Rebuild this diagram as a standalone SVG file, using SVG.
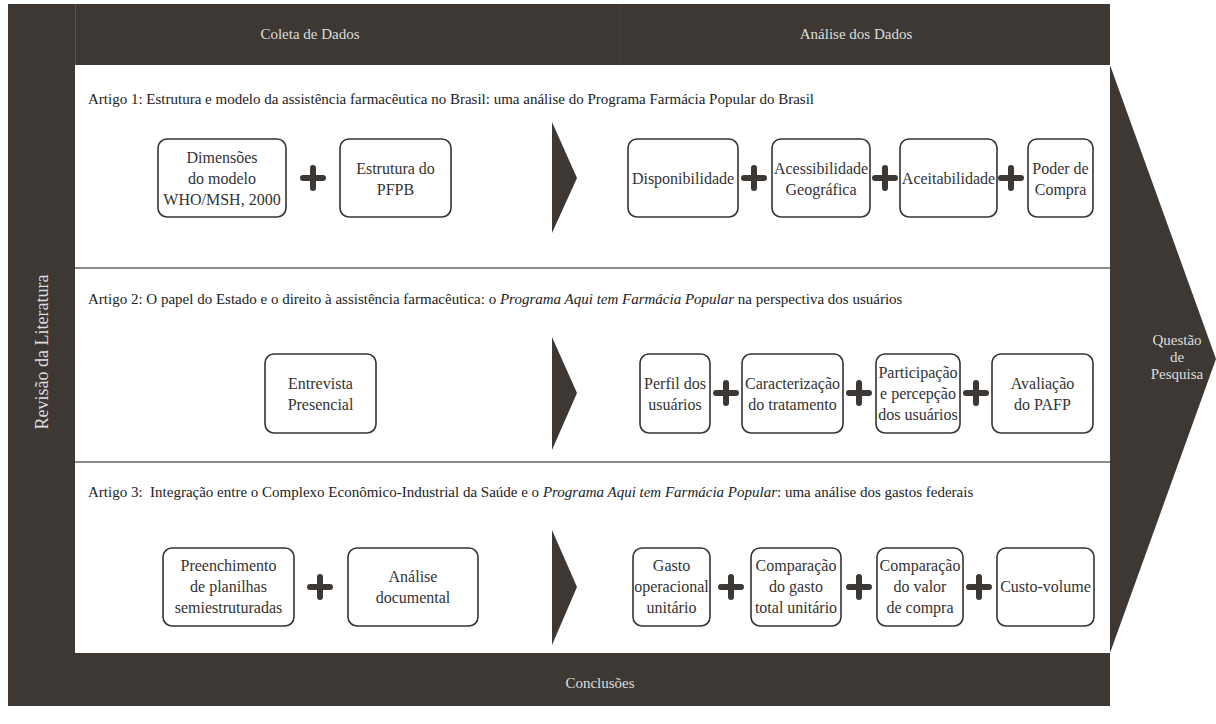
<svg xmlns="http://www.w3.org/2000/svg" width="1216" height="724" viewBox="0 0 1216 724">
<defs>
<style>
.dark{fill:#3d3833}
.box{fill:#fff;stroke:#333;stroke-width:1.6}
.t{font-family:"Liberation Serif","Times New Roman",serif;font-size:16px;fill:#333;text-anchor:middle}
.h{font-family:"Liberation Serif","Times New Roman",serif;font-size:15px;fill:#ddd;text-anchor:middle}
.ti{font-family:"Liberation Serif","Times New Roman",serif;font-size:15px;fill:#222}
.sep{stroke:#666;stroke-width:1.5}
.plus{stroke:#3d3833;stroke-width:6;stroke-linecap:round}
</style>
</defs>
<rect width="1216" height="724" fill="#fff"/>
<g id="frame">
<rect class="dark" x="8" y="4" width="1102" height="702"/>
<polygon class="dark" points="1110,65 1216,359 1110,653"/>
<rect x="75" y="65" width="1035" height="588" fill="#fff"/>
<line x1="75.5" y1="4" x2="75.5" y2="65" stroke="#5a554f" stroke-width="1"/>
<line x1="620.5" y1="4" x2="620.5" y2="65" stroke="#46413c" stroke-width="1"/>
<line class="sep" x1="75" y1="268" x2="1110" y2="268"/>
<line class="sep" x1="75" y1="462" x2="1110" y2="462"/>
</g>
<g id="labels">
<text class="h" x="310" y="39">Coleta de Dados</text>
<text class="h" x="856" y="39">Análise dos Dados</text>
<text class="h" style="font-size:18px" transform="translate(48,352) rotate(-90)">Revisão da Literatura</text>
<text class="h" x="600" y="688">Conclusões</text>
<text class="h" x="1177" y="345">Questão</text>
<text class="h" x="1177" y="362">de</text>
<text class="h" x="1177" y="379">Pesquisa</text>
<text class="ti" x="88" y="104">Artigo 1: Estrutura e modelo da assistência farmacêutica no Brasil: uma análise do Programa Farmácia Popular do Brasil</text>
<text class="ti" x="88" y="304">Artigo 2: O papel do Estado e o direito à assistência farmacêutica: o <tspan font-style="italic">Programa Aqui tem Farmácia Popular</tspan> na perspectiva dos usuários</text>
<text class="ti" x="88" y="497" xml:space="preserve">Artigo 3:  Integração entre o Complexo Econômico-Industrial da Saúde e o <tspan font-style="italic">Programa Aqui tem Farmácia Popular</tspan>: uma análise dos gastos federais</text>
</g>
<g id="chevrons">
<polygon class="dark" points="552,122 577,178 552,233"/>
<polygon class="dark" points="552,337 577,393 552,450"/>
<polygon class="dark" points="552,530 577,587 552,645"/>
</g>
<g id="connectors">
<path class="plus" d="M303,178h20M313,168v20"/>
<path class="plus" d="M744,178h20M754,168v20"/>
<path class="plus" d="M875,178h20M885,168v20"/>
<path class="plus" d="M1001,178h20M1011,168v20"/>
<path class="plus" d="M716,393h20M726,383v20"/>
<path class="plus" d="M849,393h20M859,383v20"/>
<path class="plus" d="M966,393h20M976,383v20"/>
<path class="plus" d="M310,587h20M320,577v20"/>
<path class="plus" d="M721,587h20M731,577v20"/>
<path class="plus" d="M849,587h20M859,577v20"/>
<path class="plus" d="M969,587h20M979,577v20"/>
</g>
<g id="n1a"><rect class="box" x="158" y="139" width="128" height="78" rx="9"/><text class="t" x="222" y="163">Dimensões</text><text class="t" x="222" y="184">do modelo</text><text class="t" x="222" y="205">WHO/MSH, 2000</text></g>
<g id="n1b"><rect class="box" x="340" y="139" width="111" height="78" rx="9"/><text class="t" x="395.5" y="174">Estrutura do</text><text class="t" x="395.5" y="195">PFPB</text></g>
<g id="n1c"><rect class="box" x="628" y="139" width="110" height="78" rx="9"/><text class="t" x="683" y="184">Disponibilidade</text></g>
<g id="n1d"><rect class="box" x="772" y="139" width="98" height="78" rx="9"/><text class="t" x="821" y="174">Acessibilidade</text><text class="t" x="821" y="195">Geográfica</text></g>
<g id="n1e"><rect class="box" x="900" y="139" width="97" height="78" rx="9"/><text class="t" x="948.5" y="184">Aceitabilidade</text></g>
<g id="n1f"><rect class="box" x="1028" y="139" width="65" height="78" rx="9"/><text class="t" x="1060.5" y="174">Poder de</text><text class="t" x="1060.5" y="195">Compra</text></g>
<g id="n2a"><rect class="box" x="265" y="354" width="111" height="79" rx="9"/><text class="t" x="320.5" y="389">Entrevista</text><text class="t" x="320.5" y="410">Presencial</text></g>
<g id="n2b"><rect class="box" x="640" y="354" width="70" height="79" rx="9"/><text class="t" x="675" y="389">Perfil dos</text><text class="t" x="675" y="410">usuários</text></g>
<g id="n2c"><rect class="box" x="742" y="354" width="101" height="79" rx="9"/><text class="t" x="792.5" y="389">Caracterização</text><text class="t" x="792.5" y="410">do tratamento</text></g>
<g id="n2d"><rect class="box" x="876" y="354" width="84" height="79" rx="9"/><text class="t" x="918" y="378">Participação</text><text class="t" x="918" y="399">e percepção</text><text class="t" x="918" y="420">dos usuários</text></g>
<g id="n2e"><rect class="box" x="992" y="354" width="101" height="79" rx="9"/><text class="t" x="1042.5" y="389">Avaliação</text><text class="t" x="1042.5" y="410">do PAFP</text></g>
<g id="n3a"><rect class="box" x="163" y="548" width="131" height="78" rx="9"/><text class="t" x="228.5" y="571">Preenchimento</text><text class="t" x="228.5" y="592">de planilhas</text><text class="t" x="228.5" y="613">semiestruturadas</text></g>
<g id="n3b"><rect class="box" x="348" y="548" width="130" height="78" rx="9"/><text class="t" x="413" y="582">Análise</text><text class="t" x="413" y="603">documental</text></g>
<g id="n3c"><rect class="box" x="633" y="548" width="77" height="78" rx="9"/><text class="t" x="671.5" y="571">Gasto</text><text class="t" x="671.5" y="592">operacional</text><text class="t" x="671.5" y="613">unitário</text></g>
<g id="n3d"><rect class="box" x="751" y="548" width="90" height="78" rx="9"/><text class="t" x="796" y="571">Comparação</text><text class="t" x="796" y="592">do gasto</text><text class="t" x="796" y="613">total unitário</text></g>
<g id="n3e"><rect class="box" x="877" y="548" width="86" height="78" rx="9"/><text class="t" x="920" y="571">Comparação</text><text class="t" x="920" y="592">do valor</text><text class="t" x="920" y="613">de compra</text></g>
<g id="n3f"><rect class="box" x="997" y="548" width="97" height="78" rx="9"/><text class="t" x="1045.5" y="592">Custo-volume</text></g>
</svg>
